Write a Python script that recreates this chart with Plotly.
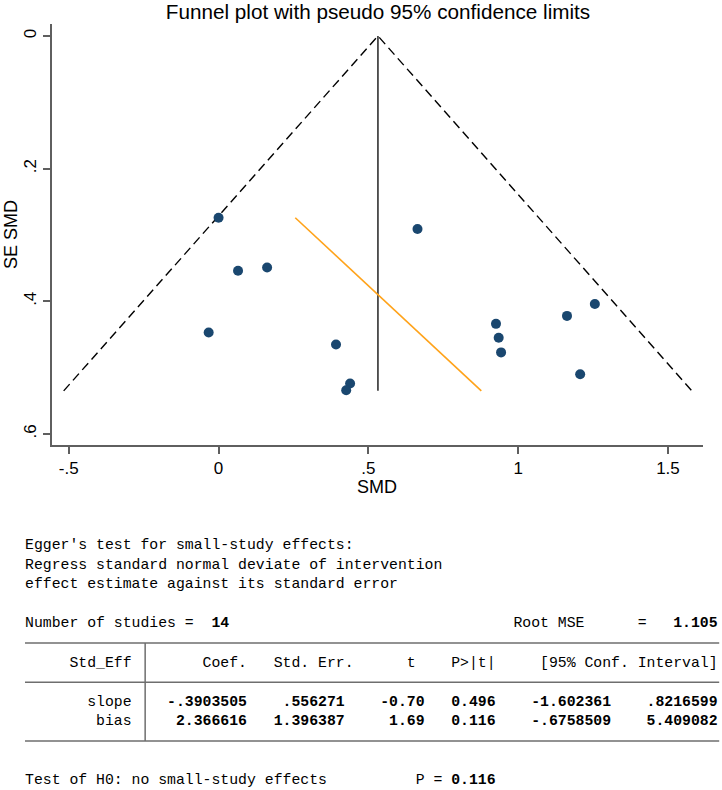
import plotly.graph_objects as go

# Study estimates
smd = [0.000, 0.065, 0.162, -0.033, 0.392, 0.439, 0.426,
       0.664, 0.926, 0.935, 0.943, 1.163, 1.256, 1.207]
se_smd = [0.274, 0.354, 0.349, 0.447, 0.465, 0.524, 0.534,
          0.291, 0.434, 0.455, 0.477, 0.422, 0.404, 0.510]

# Pseudo 95% limits, pooled estimate and Egger regression line
funnel_x = [-0.517, 0.532, 1.580]
funnel_y = [0.535, 0.0, 0.535]
pooled_x = [0.532, 0.532]
pooled_y = [0.0, 0.535]
egger_x = [0.256, 0.877]
egger_y = [0.274, 0.535]

x_ticks = [-0.5, 0, 0.5, 1, 1.5]
x_ticktext = ['-.5', '0', '.5', '1', '1.5']
y_ticks = [0, 0.2, 0.4, 0.6]
y_ticktext = ['0', '.2', '.4', '.6']

# Egger's test output
n_studies = '14'
root_mse = '1.105'
terms = ['slope', 'bias']
coef = ['-.3903505', '2.366616']
std_err = ['.556271', '1.396387']
t_stat = ['-0.70', '1.69']
p_val = ['0.496', '0.116']
ci_low = ['-1.602361', '-.6758509']
ci_high = ['.8216599', '5.409082']
p_h0 = '0.116'

W, H = 722, 790
NAVY = '#1a476f'
ORANGE = '#FFA31A'
AXIS = '#5f5f5f'
SANS = 'Liberation Sans, Arial, sans-serif'
MONO = 'Liberation Mono, Courier New, monospace'


# screen pixels -> paper coordinates (margins are zero)
def fx(sx):
    return sx / W


def fy(sy):
    return 1 - sy / H


fig = go.Figure()

fig.add_trace(go.Scatter(x=funnel_x, y=funnel_y, mode='lines',
                         line=dict(color='black', width=1.4, dash='9px,5px'),
                         hoverinfo='skip'))
fig.add_trace(go.Scatter(x=pooled_x, y=pooled_y, mode='lines',
                         line=dict(color='black', width=1.3), hoverinfo='skip'))
fig.add_trace(go.Scatter(x=egger_x, y=egger_y, mode='lines',
                         line=dict(color=ORANGE, width=1.6), hoverinfo='skip'))
fig.add_trace(go.Scatter(x=smd, y=se_smd, mode='markers',
                         marker=dict(color=NAVY, size=10, line=dict(width=0))))

# plot area on screen, in pixels
px_l, px_r, px_t, px_b = 52, 703, 24, 445

axis_common = dict(showgrid=False, zeroline=False, showline=True,
                   linecolor=AXIS, linewidth=1.5, ticks='outside',
                   ticklen=7, tickwidth=1.5, tickcolor=AXIS,
                   tickfont=dict(family=SANS, size=17, color='black'))

fig.update_layout(
    width=W, height=H,
    margin=dict(l=0, r=0, t=0, b=0),
    paper_bgcolor='white', plot_bgcolor='white',
    showlegend=False,
    title=dict(text='Funnel plot with pseudo 95% confidence limits',
               x=fx(378), xanchor='center', y=fy(12), yanchor='middle',
               font=dict(family=SANS, size=20.7, color='black')),
    xaxis=dict(domain=[fx(px_l), fx(px_r)], range=[-0.556, 1.617],
               tickvals=x_ticks, ticktext=x_ticktext, **axis_common),
    yaxis=dict(domain=[fy(px_b), fy(px_t)], range=[0.6166, -0.018],
               tickvals=y_ticks, ticktext=y_ticktext, tickangle=-90,
               **axis_common),
)

# axis titles
fig.add_annotation(text='SMD', x=fx(377.5), y=fy(487), xref='paper', yref='paper',
                   showarrow=False, xanchor='center', yanchor='middle',
                   font=dict(family=SANS, size=18, color='black'))
fig.add_annotation(text='SE SMD', x=fx(10.5), y=fy(234.5), xref='paper', yref='paper',
                   showarrow=False, xanchor='center', yanchor='middle', textangle=-90,
                   font=dict(family=SANS, size=18, color='black'))


# Text output below the graph
def bold(s):
    return '<b>' + s + '</b>'


# the column separator is drawn as a rule, so the text leaves col 13 blank
lines = {}
lines[0] = "Egger's test for small-study effects:"
lines[1] = 'Regress standard normal deviate of intervention'
lines[2] = 'effect estimate against its standard error'
lines[4] = ('Number of studies = ' + bold(f'{n_studies:>3}') + ' ' * 32
            + 'Root MSE      =' + bold(f'{root_mse:>8}'))
lines[6] = '     Std_Eff        Coef.   Std. Err.      t    P&gt;|t|     [95% Conf. Interval]'
for i, term in enumerate(terms):
    vals = (f'{coef[i]:>11}{std_err[i]:>11}{t_stat[i]:>9}{p_val[i]:>8}'
            f'{ci_low[i]:>13}{ci_high[i]:>12}')
    lines[8 + i] = f'{term:>12}  ' + bold(vals)
lines[12] = 'Test of H0: no small-study effects' + ' ' * 10 + 'P = ' + bold(p_h0)

row0, pitch = 545, 19.6
char_w = 8.9
text_x = 25

for row, txt in lines.items():
    fig.add_annotation(text=txt.replace(' ', '\u00a0'),
                       x=fx(text_x), y=fy(row0 + row * pitch),
                       xref='paper', yref='paper', showarrow=False,
                       xanchor='left', yanchor='middle', align='left',
                       borderpad=0, borderwidth=0,
                       font=dict(family=MONO, size=14.8, color='black'))

# table rules
rule_x0, rule_x1 = text_x, text_x + 78 * char_w
for row in [5, 7, 10]:
    yy = fy(row0 + row * pitch)
    fig.add_shape(type='line', xref='paper', yref='paper',
                  x0=fx(rule_x0), x1=fx(rule_x1), y0=yy, y1=yy,
                  line=dict(color='#6e6e6e', width=1.5))
sep_x = fx(text_x + 13.5 * char_w)
fig.add_shape(type='line', xref='paper', yref='paper',
              x0=sep_x, x1=sep_x,
              y0=fy(row0 + 5 * pitch), y1=fy(row0 + 10 * pitch),
              line=dict(color='#6e6e6e', width=1.5))

# drop the default body margin so the figure sits at the window's corner
fig.write_html('out.html', config={'displayModeBar': False},
               post_script="document.body.style.margin='0';")
